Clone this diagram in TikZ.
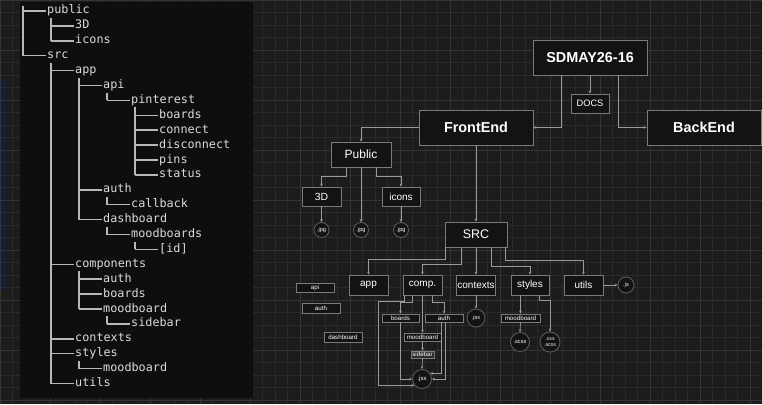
\documentclass[tikz,border=0pt]{standalone}
\usepackage{fontspec}
\setmainfont{Liberation Sans}
\newfontfamily\treefont{DejaVu Sans Mono}
\usetikzlibrary{calc,arrows.meta}
\definecolor{bgc}{HTML}{1C1C1C}
\definecolor{gridminor}{HTML}{2A2A2A}
\definecolor{gridmajor}{HTML}{343434}
\definecolor{panelc}{HTML}{0E0E0E}
\definecolor{treetext}{HTML}{DADADA}
\definecolor{treeline}{HTML}{B8B8B8}
\definecolor{nodefill}{HTML}{131313}
\definecolor{bordc}{HTML}{7A7A7A}
\definecolor{linec}{HTML}{9A9A9A}
\definecolor{circb}{HTML}{606060}
\definecolor{sidefill}{HTML}{2C2C2C}
\definecolor{glow}{HTML}{142038}
\tikzset{
  treetxt/.style={anchor=west, inner sep=0, text=treetext, text height=8.5pt, text depth=2.5pt,
    font=\treefont\fontsize{11.8}{12}\selectfont},
  tl/.style={draw=treeline, line width=1.5pt},
  bigbox/.style={draw=bordc, fill=nodefill, line width=0.8pt, text=white, inner sep=0,
    minimum width=114pt, minimum height=35pt, font=\bfseries\fontsize{14.4}{16}\selectfont},
  midbox/.style={draw=bordc, fill=nodefill, line width=0.8pt, text=white, inner sep=0,
    font=\fontsize{10}{12}\selectfont},
  sbox/.style={draw=bordc, fill=nodefill, line width=0.6pt, text=white, inner sep=0,
    font=\fontsize{6.2}{7}\selectfont},
  circ/.style={circle, draw=circb, fill=nodefill, line width=0.8pt, inner sep=0, text=white,
    font=\fontsize{5.6}{6}\selectfont, align=center},
  arr/.style={draw=linec, line width=0.7pt, -{Stealth[length=3pt,width=2.6pt]}},
}
\newcommand\kids[3]{%
  \coordinate (k#1) at ($(t#1.west)+(4,7)$);
  \draw[tl] (k#1) -- (k#1 |- t#2.west);
  \foreach \c in {#3} \draw[tl] (k#1 |- t\c.west) -- ($(t\c.west)+(-1,0)$);
}
\begin{document}
\begin{tikzpicture}[x=1pt,y=-1pt]
\useasboundingbox (0,0) rectangle (762,404);
\fill[bgc] (0,0) rectangle (762,404);
\fill[glow] (0,80) rectangle (6,290);
\draw[gridminor, line width=0.5pt, step=12.5pt] (0,404) grid (762,0);
\draw[gridmajor, line width=0.6pt, step=50pt] (0,404) grid (762,0);
\fill[panelc] (20,2) rectangle (253,398);

% ---------- directory tree ----------
\node[treetxt] (t0) at (47,11) {public};
\node[treetxt] (t1) at (75,25.9) {3D};
\node[treetxt] (t2) at (75,40.8) {icons};
\node[treetxt] (t3) at (47,55.7) {src};
\node[treetxt] (t4) at (75,70.6) {app};
\node[treetxt] (t5) at (103,85.5) {api};
\node[treetxt] (t6) at (131,100.4) {pinterest};
\node[treetxt] (t7) at (159,115.3) {boards};
\node[treetxt] (t8) at (159,130.2) {connect};
\node[treetxt] (t9) at (159,145.1) {disconnect};
\node[treetxt] (t10) at (159,160) {pins};
\node[treetxt] (t11) at (159,174.9) {status};
\node[treetxt] (t12) at (103,189.8) {auth};
\node[treetxt] (t13) at (131,204.7) {callback};
\node[treetxt] (t14) at (103,219.6) {dashboard};
\node[treetxt] (t15) at (131,234.5) {moodboards};
\node[treetxt] (t16) at (159,249.4) {[id]};
\node[treetxt] (t17) at (75,264.3) {components};
\node[treetxt] (t18) at (103,279.2) {auth};
\node[treetxt] (t19) at (103,294.1) {boards};
\node[treetxt] (t20) at (103,309) {moodboard};
\node[treetxt] (t21) at (131,323.9) {sidebar};
\node[treetxt] (t22) at (75,338.8) {contexts};
\node[treetxt] (t23) at (75,353.7) {styles};
\node[treetxt] (t24) at (103,368.6) {moodboard};
\node[treetxt] (t25) at (75,383.5) {utils};

\coordinate (root) at (23,6);
\draw[tl] (root) -- (root |- t3.west);
\foreach \c in {0,3} \draw[tl] (root |- t\c.west) -- ($(t\c.west)+(-1,0)$);
\kids{0}{2}{1,2}
\kids{3}{25}{4,17,22,23,25}
\kids{4}{14}{5,12,14}
\kids{5}{6}{6}
\kids{6}{11}{7,8,9,10,11}
\kids{12}{13}{13}
\kids{14}{15}{15}
\kids{15}{16}{16}
\kids{17}{20}{18,19,20}
\kids{20}{21}{21}
\kids{23}{24}{24}

% ---------- diagram nodes ----------
\node[bigbox] (sd) at (590,57.5) {SDMAY26-16};
\node[midbox, minimum width=38pt, minimum height=19pt, font=\fontsize{9.3}{11}\selectfont] (docs) at (590,103.5) {DOCS};
\node[bigbox] (fe) at (476,127.5) {FrontEnd};
\node[bigbox] (be) at (704,127.5) {BackEnd};

\node[midbox, minimum width=60pt, minimum height=25pt, font=\fontsize{12}{14}\selectfont] (pub) at (361,154.5) {Public};
\node[midbox, minimum width=39pt, minimum height=19pt, font=\fontsize{10.4}{12}\selectfont] (d3) at (321.5,196.5) {3D};
\node[midbox, minimum width=38pt, minimum height=19pt, font=\fontsize{10}{12}\selectfont] (ico) at (401,196.5) {icons};
\node[circ, minimum size=15pt] (j1) at (321.5,230) {.jpg};
\node[circ, minimum size=15pt] (j2) at (361,230) {.jpg};
\node[circ, minimum size=15pt] (j3) at (401,230) {.jpg};

\node[midbox, minimum width=62pt, minimum height=25pt, font=\fontsize{12.5}{14}\selectfont] (src) at (476,234.5) {SRC};
\node[midbox, minimum width=39pt, minimum height=20pt] (app) at (368.5,285) {app};
\node[midbox, minimum width=39pt, minimum height=20pt] (comp) at (422.5,285) {comp.};
\node[midbox, minimum width=39pt, minimum height=20pt] (ctx) at (476,285) {contexts};
\node[midbox, minimum width=38pt, minimum height=20pt] (sty) at (530,285) {styles};
\node[midbox, minimum width=39pt, minimum height=20pt] (utl) at (583.5,285) {utils};
\node[circ, minimum size=16pt] (js) at (626,285) {.js};
\node[circ, minimum size=18pt] (jsx1) at (476,318) {.jsx};

\node[sbox, minimum width=39pt, minimum height=8pt] (smood) at (520.5,318) {moodboard};
\node[circ, minimum size=19pt] (scss) at (520,342) {.scss};
\node[circ, minimum size=20pt, font=\fontsize{5.2}{5.6}\selectfont] (css) at (550,342) {.css\\.scss};

\node[sbox, minimum width=37pt, minimum height=8pt] (boards) at (400.5,318) {boards};
\node[sbox, minimum width=38pt, minimum height=8pt] (cauth) at (444,318) {auth};
\node[sbox, minimum width=37pt, minimum height=8pt] (cmood) at (422.5,337) {moodboard};
\node[sbox, fill=sidefill, minimum width=23pt, minimum height=7pt] (side) at (422.5,354.5) {sidebar};
\node[circ, minimum size=19pt, font=\fontsize{6}{7}\selectfont] (jsx2) at (422,379) {.jsx};

\node[sbox, minimum width=38pt, minimum height=9pt] (lapi) at (315,287.5) {api};
\node[sbox, minimum width=38pt, minimum height=10pt] (lauth) at (321,308) {auth};
\node[sbox, minimum width=38pt, minimum height=10pt] (ldash) at (343,337) {dashboard};

% ---------- connectors ----------
\draw[arr] (sd.south) -- (docs.north);
\draw[arr] ($(sd.south west)+(29,0)$) |- (fe.east);
\draw[arr] ($(sd.south east)+(-29,0)$) |- (be.west);
\draw[arr] (fe.west) -| (pub.north);
\draw[arr] (fe.south) -- (src.north);

\draw[arr] ($(pub.south)+(-15,0)$) |- ($(d3.north)+(0,-10)$) -- (d3.north);
\draw[arr] ($(pub.south)+(15,0)$) |- ($(ico.north)+(0,-10)$) -- (ico.north);
\draw[arr] (pub.south) -- (j2.north);
\draw[arr] (d3.south) -- (j1.north);
\draw[arr] (ico.south) -- (j3.north);

\draw[arr] ($(src.south west)+(1,0)$) |- ($(app.north)+(0,-15)$) -- (app.north);
\draw[arr] ($(src.south)+(-15,0)$) |- ($(comp.north)+(0,-10)$) -- (comp.north);
\draw[arr] (src.south) -- (ctx.north);
\draw[arr] ($(src.south)+(15,0)$) |- ($(sty.north)+(0,-8)$) -- (sty.north);
\draw[arr] ($(src.south east)+(-2,0)$) |- ($(utl.north)+(0,-14)$) -- (utl.north);
\draw[arr] (utl.east) -- (js.west);
\draw[arr] (ctx.south) -- (jsx1.north);

\draw[arr] (sty.south -| smood.north) -- (smood.north);
\draw[arr] (smood.south) -- (scss.north);
\draw[arr] ($(sty.south east)+(-10,0)$) |- ($(css.north)+(0,-31)$) -- (css.north);

\draw[arr] ($(comp.south)+(-10,0)$) |- ($(boards.north)+(0,-11)$) -- (boards.north);
\draw[arr] ($(comp.south)+(10,0)$) |- ($(cauth.north)+(0,-11)$) -- (cauth.north);
\draw[arr] (comp.south) -- (cmood.north);
\draw[arr] (cmood.south) -- (side.north);
\draw[arr] (side.south) -- (jsx2.north);
\draw[arr] ($(comp.south west)+(2,0)$) |- ($(comp.south west)+(-24,6)$) |- (jsx2.220);
\draw[arr] (boards.south) |- (jsx2.west);
\draw[arr] ($(cauth.south)+(-3,0)$) |- (jsx2.35);
\draw[arr] ($(cauth.south)+(1,0)$) |- (jsx2.east);
\end{tikzpicture}
\end{document}
